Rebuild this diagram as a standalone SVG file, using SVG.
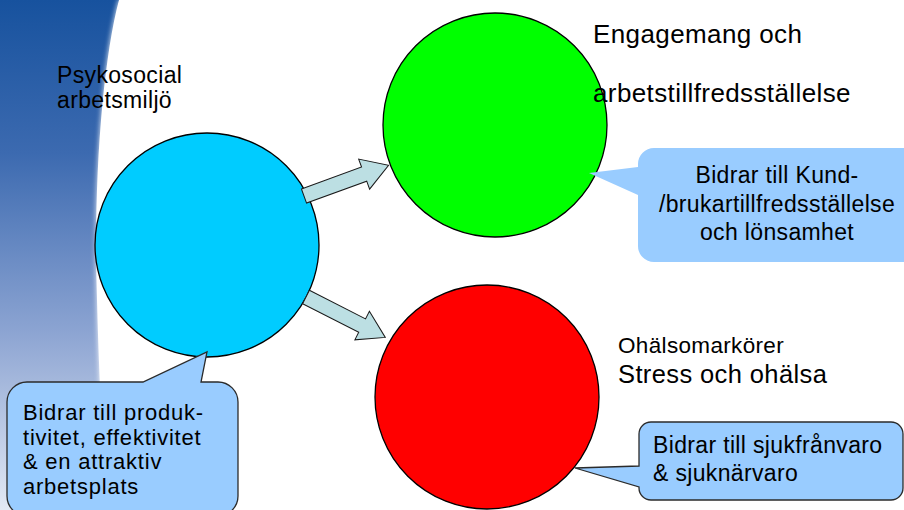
<svg xmlns="http://www.w3.org/2000/svg" width="904" height="510" viewBox="0 0 904 510">
<defs>
<linearGradient id="band" x1="0" y1="0" x2="0" y2="1">
<stop offset="0" stop-color="#17529e"/>
<stop offset="0.3" stop-color="#3c6ab0"/>
<stop offset="0.65" stop-color="#8ca4d2"/>
<stop offset="1" stop-color="#e3e9f4"/>
</linearGradient>
<filter id="soft" x="-0.5" y="-0.1" width="2" height="1.2"><feGaussianBlur stdDeviation="2.5"/></filter>
<style>
text{font-family:"Liberation Sans",Arial,sans-serif;fill:#000;letter-spacing:0.015em}
.c{stroke:#000;stroke-width:1.3}
.arrow{fill:#bcdfe3;stroke:#1a1a1a;stroke-width:1}
.call{fill:#99ccff}
.callb{fill:#99ccff;stroke:#2b2b2b;stroke-width:1.3}
.t23{font-size:23px}
.t22{font-size:22px;letter-spacing:0.035em}
</style>
</defs>
<g id="background">
<path d="M0,0 H119 C103,60 93,180 97,300 C99,380 103,450 106,510 H0 Z" fill="url(#band)"/>
<path d="M121,0 C105,60 95,180 99,300 C101,380 105,450 108,510" fill="none" stroke="#ffffff" stroke-width="5" opacity="0.8" filter="url(#soft)"/>
</g>
<g id="node-psykosocial">
<circle class="c" cx="207" cy="245" r="112" fill="#00ccff"/>
<text class="t23" x="57" y="83">Psykosocial</text>
<text class="t23" x="57" y="108">arbetsmiljö</text>
</g>
<g id="node-engagemang">
<circle class="c" cx="495" cy="125" r="112" fill="#00ff00"/>
<text x="593" y="43" font-size="26">Engagemang och</text>
<text x="593" y="102" font-size="26">arbetstillfredsställelse</text>
</g>
<g id="node-ohalsa">
<circle class="c" cx="487" cy="397" r="112" fill="#ff0000"/>
<text x="618" y="353" font-size="22.5">Ohälsomarkörer</text>
<text x="618" y="383" font-size="25.5">Stress och ohälsa</text>
</g>
<g id="connectors">
<polygon class="arrow" transform="translate(304,196) rotate(-20)" points="0,-7.5 64,-7.5 64,-16 90,0 64,16 64,7.5 0,7.5"/>
<polygon class="arrow" transform="translate(306,297) rotate(27)" points="0,-7.5 63,-7.5 63,-16 89,0 63,16 63,7.5 0,7.5"/>
</g>
<g id="callout-produktivitet">
<path class="callb" d="M27,382 H143 L207,352 L201,382 H218 A20,20 0 0 1 238,402 V496 A20,20 0 0 1 218,516 H27 A20,20 0 0 1 7,496 V402 A20,20 0 0 1 27,382 Z"/>
<text class="t22" x="23" y="420">Bidrar till produk-</text>
<text class="t22" x="23" y="444.7">tivitet, effektivitet</text>
<text class="t22" x="23" y="469.4">&amp; en attraktiv</text>
<text class="t22" x="23" y="494.1">arbetsplats</text>
</g>
<g id="callout-kund">
<path class="call" d="M654,148 H912 V262 H654 A16,16 0 0 1 638,246 V195 L589,173 L638,167 V164 A16,16 0 0 1 654,148 Z"/>
<text class="t23" x="777" y="183" text-anchor="middle">Bidrar till Kund-</text>
<text class="t23" x="777" y="212" text-anchor="middle">/brukartillfredsställelse</text>
<text class="t23" x="777" y="240" text-anchor="middle">och lönsamhet</text>
</g>
<g id="callout-sjuk">
<path class="callb" d="M651,422 H891 A12,12 0 0 1 903,434 V488 A12,12 0 0 1 891,500 H651 A12,12 0 0 1 639,488 V487 L575,468 L639,466 V434 A12,12 0 0 1 651,422 Z"/>
<text class="t23" x="653" y="453">Bidrar till sjukfrånvaro</text>
<text class="t23" x="653" y="481">&amp; sjuknärvaro</text>
</g>
</svg>
